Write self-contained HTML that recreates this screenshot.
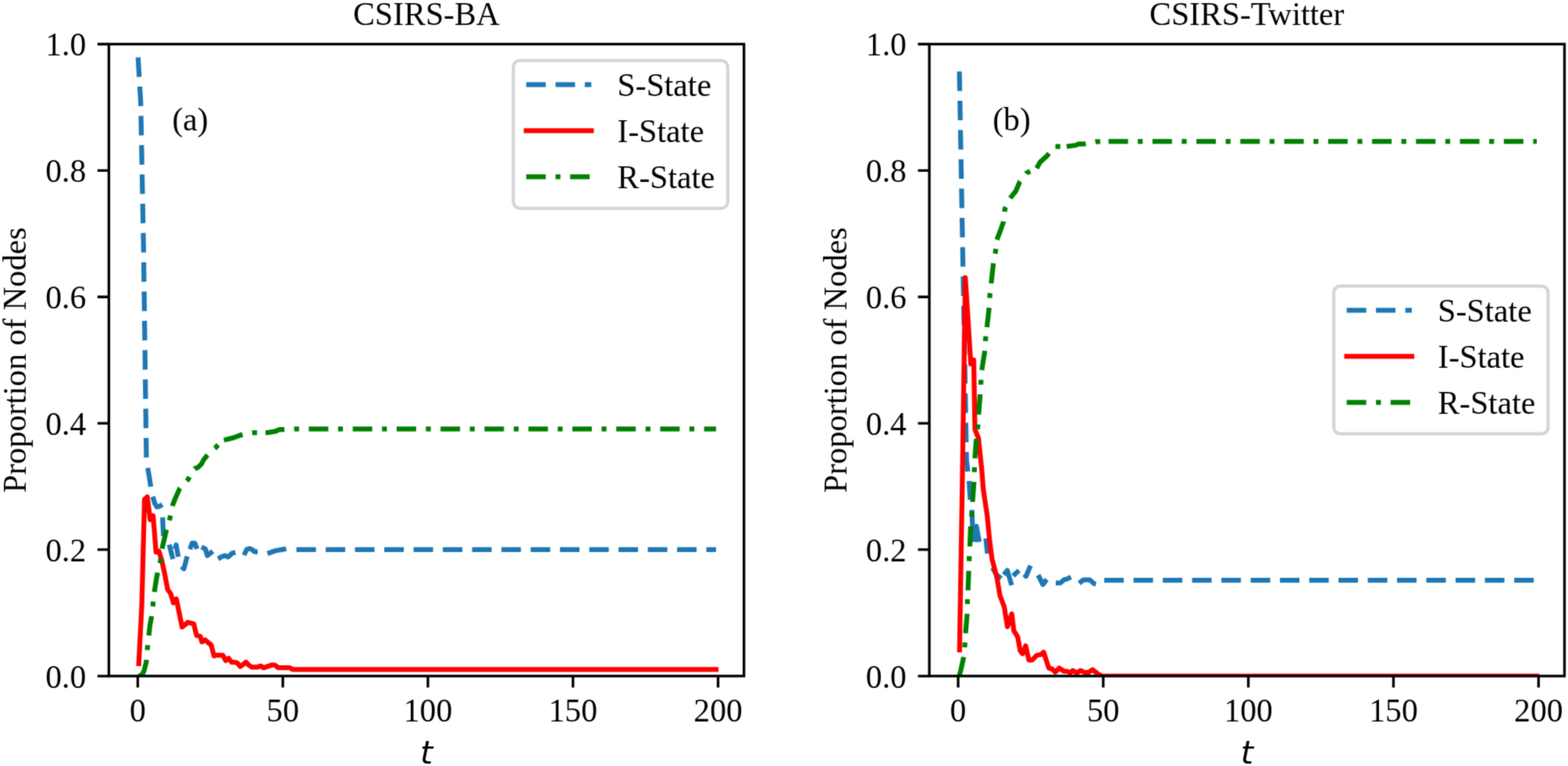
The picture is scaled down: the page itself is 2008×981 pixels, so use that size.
<!DOCTYPE html>
<html><head><meta charset="utf-8"><title>CSIRS plots</title>
<style>html,body{margin:0;padding:0;background:#fff;}svg{display:block;}</style>
</head><body>
<svg width="2008" height="981" viewBox="0 0 2008 981">
<defs>
<filter id="soft" filterUnits="userSpaceOnUse" x="0" y="0" width="2008" height="981" color-interpolation-filters="sRGB"><feConvolveMatrix order="3" kernelMatrix="0.0277 0.1110 0.0277 0.1110 0.4452 0.1110 0.0277 0.1110 0.0277" edgeMode="duplicate"/></filter>
<clipPath id="clipa"><rect x="139.4" y="56.5" width="813.35" height="809.3"/></clipPath>
<clipPath id="clipb"><rect x="1190.1" y="56.5" width="813.4" height="809.3"/></clipPath>
</defs>
<g filter="url(#soft)">
<rect width="2008" height="981" fill="#ffffff"/>
<g clip-path="url(#clipa)">
<path d="M176.8 73.5 L180.2 131 L183.8 316 L187.6 597" fill="none" stroke="#1f77b4" stroke-width="6.25" stroke-linejoin="round" stroke-linecap="butt" stroke-dasharray="25,12.5"/>
<path d="M189.2 599.3 L191.2 611 L193.1 623.3" fill="none" stroke="#1f77b4" stroke-width="6.25" stroke-linejoin="round" stroke-linecap="butt"/>
<path d="M195.6 636 L198.3 645 L201 649.3 L204 648.5 L208 646.3" fill="none" stroke="#1f77b4" stroke-width="6.25" stroke-linejoin="round" stroke-linecap="butt"/>
<path d="M208.2 662.5 L209.3 686.5" fill="none" stroke="#1f77b4" stroke-width="6.25" stroke-linejoin="round" stroke-linecap="butt"/>
<path d="M216.8 697.5 L221.4 716" fill="none" stroke="#1f77b4" stroke-width="6.25" stroke-linejoin="round" stroke-linecap="butt"/>
<path d="M224 703 L225.6 698 L228.3 713" fill="none" stroke="#1f77b4" stroke-width="6.25" stroke-linejoin="round" stroke-linecap="butt"/>
<path d="M232.5 725.5 L235.5 728.5 L239.7 712.5" fill="none" stroke="#1f77b4" stroke-width="6.25" stroke-linejoin="round" stroke-linecap="butt"/>
<path d="M243.3 703.5 L246 695.5 L249.5 695.5 L252.3 703" fill="none" stroke="#1f77b4" stroke-width="6.25" stroke-linejoin="round" stroke-linecap="butt"/>
<path d="M258 700.5 L263 703 L265.5 711.5 L272.5 706" fill="none" stroke="#1f77b4" stroke-width="6.25" stroke-linejoin="round" stroke-linecap="butt"/>
<path d="M279.2 715.7 L283.8 713 L288.3 711.6 L292 713.3 L297.5 708.4 L301.5 707.5" fill="none" stroke="#1f77b4" stroke-width="6.25" stroke-linejoin="round" stroke-linecap="butt"/>
<path d="M312.5 711 L316 703.5 L320 702.5 L323 704 L326 706.5 L330 706.5" fill="none" stroke="#1f77b4" stroke-width="6.25" stroke-linejoin="round" stroke-linecap="butt"/>
<path d="M342.5 709 L352 705.5 L358 704.3 L364 703.3 L366.5 702.5" fill="none" stroke="#1f77b4" stroke-width="6.25" stroke-linejoin="round" stroke-linecap="butt"/>
<path d="M379.6 703.9 L917 703.9" fill="none" stroke="#1f77b4" stroke-width="6.25" stroke-linejoin="round" stroke-linecap="butt" stroke-dasharray="25,12.5"/>
<path d="M177.7 850 L181.6 775 L185.1 639.5 L188.6 636.3 L192.4 665.5 L196.1 660.5 L199.8 707 L203.5 706 L207.2 718 L210.9 735 L214.7 755 L218.4 760 L222.1 772 L225.8 767 L229.5 785 L233.2 803 L237 800 L240.6 797 L244.3 798 L248.1 799 L251.8 814 L256.5 815 L258.5 822 L262.5 819.5 L266.7 823 L270.4 826 L274.1 840 L277.8 839 L281.6 839 L285.3 839 L289 846 L292.8 843 L296.5 848 L300.2 848 L303.9 849 L307.6 853.6 L311.3 851 L315 848 L318.8 852 L322.5 854.4 L326.2 854.4 L330 854.4 L333.6 852.8 L337.6 855.2 L341.1 854 L344.8 852.8 L348.5 851.5 L352.3 851.9 L356.4 855.2 L371.1 855.2 L375.1 857.4 L917 857.4" fill="none" stroke="#ff0000" stroke-width="6.25" stroke-linejoin="round" stroke-linecap="square"/>
<path d="M177.5 865.8 L181.2 864.8 L184.2 860 L187.3 848 L188.8 830 L191.9 802 L194 790 L196 773 L198 756 L200.5 740 L203 728 L205.5 718 L207.9 701 L210.5 690 L212.8 680 L217.7 663 L221.4 646 L225 637 L230 626 L235 620 L240.9 614 L245 606 L249.5 600 L253 599 L258.2 594 L260.6 589 L264.7 584 L270 578 L275.3 574 L282 567 L286.7 563.4" fill="none" stroke="#008000" stroke-width="6.25" stroke-linejoin="round" stroke-linecap="butt" stroke-dasharray="25,12.5,6.25,12.5"/>
<path d="M286.7 563.4 L289.2 563 L299 560.6 L308.7 557 L316 555 L325 554.1 L339.9 554" fill="none" stroke="#008000" stroke-width="6.25" stroke-linejoin="round" stroke-linecap="butt" stroke-dasharray="25,12.5,6.25,12.5"/>
<path d="M339.9 554 L342.2 554.1 L352.8 552.4 L357.7 550 L364.2 550 L380.5 549.3 L917 549.4" fill="none" stroke="#008000" stroke-width="6.25" stroke-linejoin="round" stroke-linecap="butt" stroke-dasharray="25,12.5,6.25,12.5"/>
</g>
<text x="176.4" y="923.7" text-anchor="middle" font-family="Liberation Serif, Times New Roman, serif" font-size="41.667">0</text>
<text x="362.19" y="923.7" text-anchor="middle" font-family="Liberation Serif, Times New Roman, serif" font-size="41.667">50</text>
<text x="547.99" y="923.7" text-anchor="middle" font-family="Liberation Serif, Times New Roman, serif" font-size="41.667">100</text>
<text x="733.78" y="923.7" text-anchor="middle" font-family="Liberation Serif, Times New Roman, serif" font-size="41.667">150</text>
<text x="919.58" y="923.7" text-anchor="middle" font-family="Liberation Serif, Times New Roman, serif" font-size="41.667">200</text>
<text x="110.22" y="880.5" text-anchor="end" font-family="Liberation Serif, Times New Roman, serif" font-size="41.667">0.0</text>
<text x="110.22" y="718.64" text-anchor="end" font-family="Liberation Serif, Times New Roman, serif" font-size="41.667">0.2</text>
<text x="110.22" y="556.78" text-anchor="end" font-family="Liberation Serif, Times New Roman, serif" font-size="41.667">0.4</text>
<text x="110.22" y="394.92" text-anchor="end" font-family="Liberation Serif, Times New Roman, serif" font-size="41.667">0.6</text>
<text x="110.22" y="233.06" text-anchor="end" font-family="Liberation Serif, Times New Roman, serif" font-size="41.667">0.8</text>
<text x="110.22" y="71.2" text-anchor="end" font-family="Liberation Serif, Times New Roman, serif" font-size="41.667">1.0</text>
<path d="M176.4 865.8 V880.38 M362.19 865.8 V880.38 M547.99 865.8 V880.38 M733.78 865.8 V880.38 M919.58 865.8 V880.38 M139.4 865.8 H124.82 M139.4 703.94 H124.82 M139.4 542.08 H124.82 M139.4 380.22 H124.82 M139.4 218.36 H124.82 M139.4 56.5 H124.82" stroke="#000" stroke-width="3.333" fill="none"/>
<rect x="139.4" y="56.5" width="813.35" height="809.3" fill="none" stroke="#000" stroke-width="3.333" stroke-linejoin="miter"/>
<text x="546.08" y="32.1" text-anchor="middle" font-family="Liberation Serif, Times New Roman, serif" font-size="41.667">CSIRS-BA</text>
<text x="546.08" y="977.6" text-anchor="middle" font-family="DejaVu Sans, sans-serif" font-style="oblique" font-size="41.667">t</text>
<text transform="translate(33 461.15) rotate(-90)" text-anchor="middle" font-family="Liberation Serif, Times New Roman, serif" font-size="41.667">Proportion of Nodes</text>
<text x="220.5" y="166.9" font-family="Liberation Serif, Times New Roman, serif" font-size="41.667">(a)</text>
<rect x="657.4" y="77.5" width="274.6" height="189.3" rx="8.33" ry="8.33" fill="#ffffff" fill-opacity="0.8" stroke="#d5d5d5" stroke-width="4.17"/>
<path d="M673.9 108.4 L757.3 108.4" fill="none" stroke="#1f77b4" stroke-width="6.25" stroke-linejoin="round" stroke-linecap="butt" stroke-dasharray="25,12.5"/>
<text x="790.6" y="123" font-family="Liberation Serif, Times New Roman, serif" font-size="41.667">S-State</text>
<path d="M673.9 167.4 L757.3 167.4" fill="none" stroke="#ff0000" stroke-width="6.25" stroke-linejoin="round" stroke-linecap="square"/>
<text x="790.6" y="182" font-family="Liberation Serif, Times New Roman, serif" font-size="41.667">I-State</text>
<path d="M673.9 226.4 L757.3 226.4" fill="none" stroke="#008000" stroke-width="6.25" stroke-linejoin="round" stroke-linecap="butt" stroke-dasharray="25,12.5,6.25,12.5"/>
<text x="790.6" y="241" font-family="Liberation Serif, Times New Roman, serif" font-size="41.667">R-State</text>
<g clip-path="url(#clipb)">
<path d="M1228.6 91.5 L1233 330 L1237.8 590 L1239.5 604" fill="none" stroke="#1f77b4" stroke-width="6.25" stroke-linejoin="round" stroke-linecap="butt" stroke-dasharray="25,12.5"/>
<path d="M1241 616 L1242.5 640" fill="none" stroke="#1f77b4" stroke-width="6.25" stroke-linejoin="round" stroke-linecap="butt"/>
<path d="M1244.5 653 L1245.5 675 L1247 694" fill="none" stroke="#1f77b4" stroke-width="6.25" stroke-linejoin="round" stroke-linecap="butt"/>
<path d="M1247.5 694 L1250.5 674 L1254 694" fill="none" stroke="#1f77b4" stroke-width="6.25" stroke-linejoin="round" stroke-linecap="butt"/>
<path d="M1262.5 689.5 L1264.5 709" fill="none" stroke="#1f77b4" stroke-width="6.25" stroke-linejoin="round" stroke-linecap="butt"/>
<path d="M1271 727 L1276 736 L1282 741" fill="none" stroke="#1f77b4" stroke-width="6.25" stroke-linejoin="round" stroke-linecap="butt"/>
<path d="M1285.5 736 L1290 730.5 L1295.5 749.5" fill="none" stroke="#1f77b4" stroke-width="6.25" stroke-linejoin="round" stroke-linecap="butt"/>
<path d="M1297.5 737.5 L1301 734 L1305 730.5" fill="none" stroke="#1f77b4" stroke-width="6.25" stroke-linejoin="round" stroke-linecap="butt"/>
<path d="M1311.5 735.5 L1314 738 L1318.5 727 L1320 724.5" fill="none" stroke="#1f77b4" stroke-width="6.25" stroke-linejoin="round" stroke-linecap="butt"/>
<path d="M1329.5 736.5 L1335.5 748.5 L1340.5 742" fill="none" stroke="#1f77b4" stroke-width="6.25" stroke-linejoin="round" stroke-linecap="butt"/>
<path d="M1352 746.5 L1358 746.5 L1362.5 742.5 L1366.5 741.5 L1371.5 739" fill="none" stroke="#1f77b4" stroke-width="6.25" stroke-linejoin="round" stroke-linecap="butt"/>
<path d="M1382 747 L1387.5 742.5 L1395.5 742.5 L1401 747.5 L1403.5 748" fill="none" stroke="#1f77b4" stroke-width="6.25" stroke-linejoin="round" stroke-linecap="butt"/>
<path d="M1414.1 743.2 L1968 743.2" fill="none" stroke="#1f77b4" stroke-width="6.25" stroke-linejoin="round" stroke-linecap="butt" stroke-dasharray="25,12.5"/>
<path d="M1228.8 832.4 L1232.3 622 L1236.2 355.5 L1239.6 408 L1243.2 466 L1247 461 L1248.5 550 L1253 561 L1257.1 600 L1259.2 626.5 L1264.3 661 L1267.3 692 L1270.4 716 L1276.5 739 L1280.6 763 L1286 777 L1290.1 802.6 L1295.7 786.3 L1298.3 807.7 L1303.3 815.9 L1306.4 833.2 L1309.5 837.3 L1313.5 827.1 L1317.6 845.4 L1321.7 845.4 L1327.8 839.3 L1332.9 838.3 L1336.5 835.2 L1343.1 855.6 L1347.2 856.6 L1351.3 860.7 L1356.4 855.6 L1362.5 859.7 L1366.6 859.7 L1370.6 861.7 L1373.7 858.7 L1378.8 861.7 L1383.9 858.7 L1389 861.2 L1394.1 861.2 L1399.2 857.7 L1406.3 863.3 L1409.4 864.8 L1412 865.8 L1968 865.8" fill="none" stroke="#ff0000" stroke-width="6.25" stroke-linejoin="round" stroke-linecap="square"/>
<path d="M1228.4 865.8 L1230.5 858 L1233.8 843 L1235.5 827 L1236.5 811" fill="none" stroke="#008000" stroke-width="6.25" stroke-linejoin="round" stroke-linecap="butt" stroke-dasharray="25,12.5,6.25,12.5"/>
<path d="M1236.5 811 L1238.5 787 L1238.9 770.5 L1239.6 756" fill="none" stroke="#008000" stroke-width="6.25" stroke-linejoin="round" stroke-linecap="butt" stroke-dasharray="25,12.5,6.25,12.5"/>
<path d="M1239.6 756 L1240.6 731 L1241.3 714.2 L1242.1 699" fill="none" stroke="#008000" stroke-width="6.25" stroke-linejoin="round" stroke-linecap="butt" stroke-dasharray="25,12.5,6.25,12.5"/>
<path d="M1242.1 699 L1243 674 L1244.6 658 L1245.5 642" fill="none" stroke="#008000" stroke-width="6.25" stroke-linejoin="round" stroke-linecap="butt" stroke-dasharray="25,12.5,6.25,12.5"/>
<path d="M1245.5 642 L1247.2 619 L1247.8 602 L1248.4 587" fill="none" stroke="#008000" stroke-width="6.25" stroke-linejoin="round" stroke-linecap="butt" stroke-dasharray="25,12.5,6.25,12.5"/>
<path d="M1248.4 587 L1250.3 562 L1252.3 545.6 L1253.3 530" fill="none" stroke="#008000" stroke-width="6.25" stroke-linejoin="round" stroke-linecap="butt" stroke-dasharray="25,12.5,6.25,12.5"/>
<path d="M1253.3 530 L1255.2 505 L1256.2 489.4 L1257.3 474" fill="none" stroke="#008000" stroke-width="6.25" stroke-linejoin="round" stroke-linecap="butt" stroke-dasharray="25,12.5,6.25,12.5"/>
<path d="M1257.3 474 L1261.1 450 L1262.1 434.2 L1263.9 419" fill="none" stroke="#008000" stroke-width="6.25" stroke-linejoin="round" stroke-linecap="butt" stroke-dasharray="25,12.5,6.25,12.5"/>
<path d="M1263.9 419 L1266.7 394 L1267.6 378.1 L1269.4 362" fill="none" stroke="#008000" stroke-width="6.25" stroke-linejoin="round" stroke-linecap="butt" stroke-dasharray="25,12.5,6.25,12.5"/>
<path d="M1269.4 362 L1272.2 337 L1274.9 322 L1276.5 307" fill="none" stroke="#008000" stroke-width="6.25" stroke-linejoin="round" stroke-linecap="butt" stroke-dasharray="25,12.5,6.25,12.5"/>
<path d="M1276.5 307 L1280.5 297 L1285.1 284 L1286.9 267.5 L1293.8 253.6" fill="none" stroke="#008000" stroke-width="6.25" stroke-linejoin="round" stroke-linecap="butt" stroke-dasharray="25,12.5,6.25,12.5"/>
<path d="M1293.8 253.6 L1300.7 245 L1305.9 232.8 L1314.6 221.5 L1327.6 215.5" fill="none" stroke="#008000" stroke-width="6.25" stroke-linejoin="round" stroke-linecap="butt" stroke-dasharray="25,12.5,6.25,12.5"/>
<path d="M1327.6 215.5 L1331.9 207.7 L1340.6 199.9 L1350.1 187.7 L1366 187.7" fill="none" stroke="#008000" stroke-width="6.25" stroke-linejoin="round" stroke-linecap="butt" stroke-dasharray="25,12.5,6.25,12.5"/>
<path d="M1366 187.7 L1377.9 186 L1381.3 184.3 L1388.2 184.3 L1392 184 L1403.8 181.4 L1419.6 181.1" fill="none" stroke="#008000" stroke-width="6.25" stroke-linejoin="round" stroke-linecap="butt" stroke-dasharray="25,12.5,6.25,12.5"/>
<path d="M1419.6 181.1 L1968 181.1" fill="none" stroke="#008000" stroke-width="6.25" stroke-linejoin="round" stroke-linecap="butt" stroke-dasharray="25,12.5,6.25,12.5"/>
</g>
<text x="1227" y="923.7" text-anchor="middle" font-family="Liberation Serif, Times New Roman, serif" font-size="41.667">0</text>
<text x="1412.83" y="923.7" text-anchor="middle" font-family="Liberation Serif, Times New Roman, serif" font-size="41.667">50</text>
<text x="1598.65" y="923.7" text-anchor="middle" font-family="Liberation Serif, Times New Roman, serif" font-size="41.667">100</text>
<text x="1784.47" y="923.7" text-anchor="middle" font-family="Liberation Serif, Times New Roman, serif" font-size="41.667">150</text>
<text x="1970.3" y="923.7" text-anchor="middle" font-family="Liberation Serif, Times New Roman, serif" font-size="41.667">200</text>
<text x="1160.92" y="880.5" text-anchor="end" font-family="Liberation Serif, Times New Roman, serif" font-size="41.667">0.0</text>
<text x="1160.92" y="718.64" text-anchor="end" font-family="Liberation Serif, Times New Roman, serif" font-size="41.667">0.2</text>
<text x="1160.92" y="556.78" text-anchor="end" font-family="Liberation Serif, Times New Roman, serif" font-size="41.667">0.4</text>
<text x="1160.92" y="394.92" text-anchor="end" font-family="Liberation Serif, Times New Roman, serif" font-size="41.667">0.6</text>
<text x="1160.92" y="233.06" text-anchor="end" font-family="Liberation Serif, Times New Roman, serif" font-size="41.667">0.8</text>
<text x="1160.92" y="71.2" text-anchor="end" font-family="Liberation Serif, Times New Roman, serif" font-size="41.667">1.0</text>
<path d="M1227 865.8 V880.38 M1412.83 865.8 V880.38 M1598.65 865.8 V880.38 M1784.47 865.8 V880.38 M1970.3 865.8 V880.38 M1190.1 865.8 H1175.52 M1190.1 703.94 H1175.52 M1190.1 542.08 H1175.52 M1190.1 380.22 H1175.52 M1190.1 218.36 H1175.52 M1190.1 56.5 H1175.52" stroke="#000" stroke-width="3.333" fill="none"/>
<rect x="1190.1" y="56.5" width="813.4" height="809.3" fill="none" stroke="#000" stroke-width="3.333" stroke-linejoin="miter"/>
<text x="1596.8" y="32.1" text-anchor="middle" font-family="Liberation Serif, Times New Roman, serif" font-size="41.667">CSIRS-Twitter</text>
<text x="1596.8" y="977.6" text-anchor="middle" font-family="DejaVu Sans, sans-serif" font-style="oblique" font-size="41.667">t</text>
<text transform="translate(1083.7 461.15) rotate(-90)" text-anchor="middle" font-family="Liberation Serif, Times New Roman, serif" font-size="41.667">Proportion of Nodes</text>
<text x="1271.2" y="166.9" font-family="Liberation Serif, Times New Roman, serif" font-size="41.667">(b)</text>
<rect x="1708.1" y="366.4" width="274.4" height="189.3" rx="8.33" ry="8.33" fill="#ffffff" fill-opacity="0.8" stroke="#d5d5d5" stroke-width="4.17"/>
<path d="M1724.6 397.3 L1808 397.3" fill="none" stroke="#1f77b4" stroke-width="6.25" stroke-linejoin="round" stroke-linecap="butt" stroke-dasharray="25,12.5"/>
<text x="1841.3" y="411.9" font-family="Liberation Serif, Times New Roman, serif" font-size="41.667">S-State</text>
<path d="M1724.6 456.3 L1808 456.3" fill="none" stroke="#ff0000" stroke-width="6.25" stroke-linejoin="round" stroke-linecap="square"/>
<text x="1841.3" y="470.9" font-family="Liberation Serif, Times New Roman, serif" font-size="41.667">I-State</text>
<path d="M1724.6 515.3 L1808 515.3" fill="none" stroke="#008000" stroke-width="6.25" stroke-linejoin="round" stroke-linecap="butt" stroke-dasharray="25,12.5,6.25,12.5"/>
<text x="1841.3" y="529.9" font-family="Liberation Serif, Times New Roman, serif" font-size="41.667">R-State</text>
</g>
</svg>
</body></html>
